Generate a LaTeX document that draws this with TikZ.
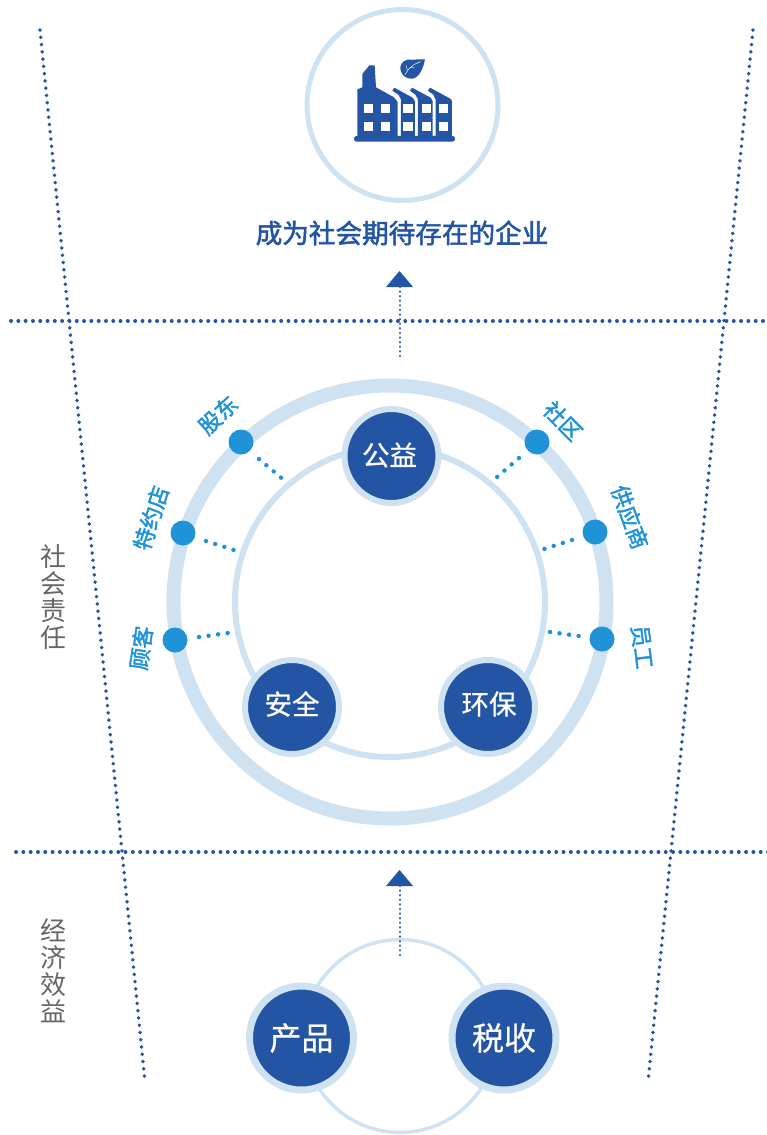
\documentclass[tikz,border=0pt]{standalone}
\usepackage{fontspec}
\setmainfont{Noto Sans CJK SC}
\newfontfamily\semi[FakeBold=2]{Noto Sans CJK SC}
\newfontfamily\lite[FakeBold=0.5]{Noto Sans CJK SC}
\definecolor{navy}{HTML}{2455A4}
\definecolor{pale}{HTML}{CFE2F2}
\definecolor{sky}{HTML}{2092D8}
\definecolor{greytxt}{HTML}{666666}
\newcommand{\fs}[1]{\fontsize{#1}{#1}\selectfont}
\tikzset{
  x=1pt,y=-1pt,
  guide/.style={navy,line width=3.8pt,line cap=round,dash pattern=on 0.1pt off 7.2pt},
  updots/.style={navy,line width=2.6pt,line cap=round,dash pattern=on 0.1pt off 4.5pt},
  linkdots/.style={sky,line width=4.4pt,line cap=round,dash pattern=on 0.1pt off 9.5pt},
  head/.style={fill=navy,draw=none},
  hub/.style={circle,fill=navy,draw=pale,text=white,inner sep=0pt},
  midhub/.style={hub,minimum size=94pt,line width=6pt},
  hubtext/.style={text=white,inner sep=0pt,font=\lite\fs{27.5}},
  bighub/.style={hub,minimum size=104pt,line width=7pt,font=\lite\fs{32}},
  stake/.style={circle,fill=sky,draw=none,minimum size=25pt,inner sep=0pt},
  stakelabel/.style={text=sky,inner sep=0pt,font=\semi\fs{22}},
  sidelabel/.style={text=greytxt,inner sep=0pt,font=\fs{26},align=center},
  window/.style={fill=white,draw=none},
}
\begin{document}
\begin{tikzpicture}
\useasboundingbox (0,0) rectangle (767,1135);
% guides
\coordinate (la) at (40,30); \coordinate (lb) at (145,1082);
\coordinate (ra) at (753,30); \coordinate (rb) at (648,1082);
\coordinate (ha) at (11,321); \coordinate (hb) at (775,321);
\coordinate (ka) at (16,852); \coordinate (kb) at (775,852);
\begin{scope}
\clip (0,0) rectangle (767,1135);
\draw[guide] (la) -- (lb);
\draw[guide] (ra) -- (rb);
\draw[guide] (ha) -- (hb);
\draw[guide] (ka) -- (kb);
\end{scope}
% top circle
\node[circle,draw=pale,fill=white,line width=5pt,minimum size=191pt,inner sep=0pt] (goal) at (402.5,105) {};
% factory icon
\begin{scope}[shift={(300,0)},x=0.3333pt,y=-0.3333pt]
\fill[navy,rounded corners=2.5pt] (162,408) rectangle (465,425);
\fill[navy] (172,412) -- (172,268) -- (187,262) -- (187,222) -- (208,196) -- (224,196) -- (228,262) -- (282,292) -- (293,306) -- (293,412) -- cycle;
\fill[navy] (303,412) -- (303,298) -- (295,284) -- (277,272) -- (283,263) -- (338,293) -- (345,304) -- (345,412) -- cycle;
\fill[navy] (354,412) -- (354,298) -- (346,284) -- (330,272) -- (336,263) -- (392,293) -- (398,304) -- (398,412) -- cycle;
\fill[navy] (407,412) -- (407,298) -- (400,284) -- (384,272) -- (390,263) -- (451,296) -- (456,303) -- (456,412) -- cycle;
\foreach \wx in {192,242,310,365,416} {
  \fill[window] (\wx,312) rectangle ++(28,28);
  \fill[window] (\wx,366) rectangle ++(28,28);
}
\fill[navy] (375,178) -- (322,179) .. controls (305,183) and (298,198) .. (302,212) .. controls (306,228) and (322,238) .. (338,236) .. controls (358,232) and (370,205) .. (375,178) -- cycle;
\draw[white,line width=0.5pt] (315,224) .. controls (325,205) and (340,192) .. (362,185);
\draw[white,line width=0.4pt] (322,210) -- (318,196) (330,202) -- (345,204);
\end{scope}
\node[text=navy,inner sep=0pt,font=\semi\fs{26.6}] (title) at (402,233) {成为社会期待存在的企业};
% upper arrow
\coordinate (ua) at (400,356);
\coordinate (ub) at (400,286);
\draw[updots] (ua) -- (ub);
\fill[head] (386,287) -- (399.5,271) -- (413,287) -- cycle;
% rings
\node[circle,draw=pale,line width=14pt,minimum size=433pt,inner sep=0pt] (outer) at (390,602) {};
\node[circle,draw=pale,line width=6pt,minimum size=310pt,inner sep=0pt] (inner) at (390,602) {};
% hubs
\node[midhub] (gy) at (391.5,456) {};
\node[midhub] (aq) at (292,707) {};
\node[midhub] (hb2) at (488,707) {};
\node[hubtext] (gyt) at (389.5,455) {公益};
\node[hubtext] (aqt) at (292,704) {安全};
\node[hubtext] (hbt) at (489,704) {环保};
% stakeholders
\node[stake] (s1) at (241,442) {};
\node[stake] (s2) at (183,533) {};
\node[stake] (s3) at (175,640) {};
\node[stake] (s4) at (537,442) {};
\node[stake] (s5) at (595,532) {};
\node[stake] (s6) at (602,639) {};
\node[stakelabel,rotate=43] (l1) at (218,415) {股东};
\node[stakelabel,rotate=72] (l2) at (151,518) {特约店};
\node[stakelabel,rotate=82] (l3) at (141,648) {顾客};
\node[stakelabel,rotate=-45] (l4) at (563,421) {社区};
\node[stakelabel,rotate=-70] (l5) at (630,517) {供应商};
\node[stakelabel,rotate=-83] (l6) at (642,647) {员工};
% link dots
\coordinate (d1a) at (259,459); \coordinate (d1b) at (281.5,478);
\coordinate (d2a) at (206,541); \coordinate (d2b) at (234,550);
\coordinate (d3a) at (199,637); \coordinate (d3b) at (228,633);
\coordinate (d4a) at (519,458); \coordinate (d4b) at (497,477);
\coordinate (d5a) at (572,540); \coordinate (d5b) at (544,549);
\coordinate (d6a) at (550,632); \coordinate (d6b) at (579,636);
\draw[linkdots] (d1a) -- (d1b);
\draw[linkdots] (d2a) -- (d2b);
\draw[linkdots] (d3a) -- (d3b);
\draw[linkdots] (d4a) -- (d4b);
\draw[linkdots] (d5a) -- (d5b);
\draw[linkdots] (d6a) -- (d6b);
% lower part
\node[circle,draw=pale,line width=3.5pt,minimum size=193pt,inner sep=0pt] (base) at (400,1036) {};
\coordinate (va) at (400,955);
\coordinate (vb) at (400,885);
\draw[updots] (va) -- (vb);
\fill[head] (386,886) -- (399.5,870) -- (413,886) -- cycle;
\node[bighub] (cp) at (301.5,1038) {产品};
\node[bighub] (sy) at (504,1038) {税收};
% side labels
\node[sidelabel] (sh) at (53,597) {社\\[1pt]会\\[1pt]责\\[1pt]任};
\node[sidelabel] (jj) at (53,971) {经\\[1pt]济\\[1pt]效\\[1pt]益};
\end{tikzpicture}
\end{document}
